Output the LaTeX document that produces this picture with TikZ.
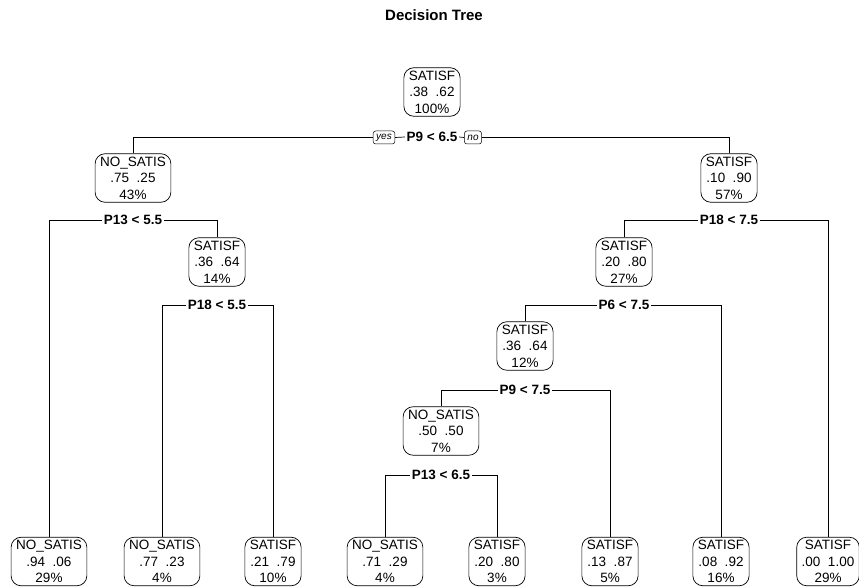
\documentclass[tikz,border=0pt]{standalone}
\usepackage{fontspec}
\setmainfont{Liberation Sans}
\begin{document}
\begin{tikzpicture}[x=1pt,y=-1pt,
  tn/.style={draw, line width=0.7pt, rounded corners=10pt, align=center, font=\fontsize{13.5}{16.5}\selectfont, inner xsep=5pt, inner ysep=3pt, fill=white},
  sp/.style={font=\bfseries\fontsize{13.5}{15}\selectfont, fill=white, inner xsep=1.5pt, inner ysep=1pt},
  yn/.style={draw, line width=0.5pt, rounded corners=2.5pt, font=\itshape\fontsize{10}{11}\selectfont, inner xsep=3pt, inner ysep=2pt, minimum height=13pt},
  ed/.style={draw, line width=0.7pt}]
\useasboundingbox (0,0) rectangle (859,588);
\node[font=\bfseries\fontsize{15}{17}\selectfont] (title) at (434,15) {Decision Tree};
% internal nodes
\node[tn] (root) at (432,92) {SATISF\\.38~~.62\\100\%};
\node[tn] (n2) at (133,178) {NO\_SATIS\\.75~~.25\\43\%};
\node[tn] (n3) at (729,178) {SATISF\\.10~~.90\\57\%};
\node[tn] (n5) at (217,262) {SATISF\\.36~~.64\\14\%};
\node[tn] (n6) at (624,262) {SATISF\\.20~~.80\\27\%};
\node[tn] (n13) at (525,346) {SATISF\\.36~~.64\\12\%};
\node[tn] (n26) at (441,431) {NO\_SATIS\\.50~~.50\\7\%};
% leaves
\node[tn] (l1) at (49,561.5) {NO\_SATIS\\.94~~.06\\29\%};
\node[tn] (l2) at (162,561.5) {NO\_SATIS\\.77~~.23\\4\%};
\node[tn] (l3) at (273,561.5) {SATISF\\.21~~.79\\10\%};
\node[tn] (l4) at (385,561.5) {NO\_SATIS\\.71~~.29\\4\%};
\node[tn] (l5) at (497,561.5) {SATISF\\.20~~.80\\3\%};
\node[tn] (l6) at (610,561.5) {SATISF\\.13~~.87\\5\%};
\node[tn] (l7) at (721,561.5) {SATISF\\.08~~.92\\16\%};
\node[tn] (l8) at (828,561.5) {SATISF\\.00~~1.00\\29\%};
% split labels
\node[sp] (s1) at (432,137) {P9 < 6.5};
\node[yn] (yes) at (384,137.5) {yes};
\node[yn] (no) at (473,137.5) {no};
\node[sp] (s2) at (133,220) {P13 < 5.5};
\node[sp] (s3) at (729,220) {P18 < 7.5};
\node[sp] (s5) at (217,305) {P18 < 5.5};
\node[sp] (s6) at (624,305) {P6 < 7.5};
\node[sp] (s13) at (525,390) {P9 < 7.5};
\node[sp] (s26) at (441,475) {P13 < 6.5};
% connectors
\draw[ed] (n2.north) |- (yes.west);
\draw[ed] (yes.east) -- (s1.west);
\draw[ed] (s1.east) -- (no.west);
\draw[ed] (no.east) -| (n3.north);
\draw[ed] (l1.north) |- (s2.west);
\draw[ed] (n5.north) |- (s2.east);
\draw[ed] (n6.north) |- (s3.west);
\draw[ed] (l8.north) |- (s3.east);
\draw[ed] (l2.north) |- (s5.west);
\draw[ed] (l3.north) |- (s5.east);
\draw[ed] (n13.north) |- (s6.west);
\draw[ed] (l7.north) |- (s6.east);
\draw[ed] (n26.north) |- (s13.west);
\draw[ed] (l6.north) |- (s13.east);
\draw[ed] (l4.north) |- (s26.west);
\draw[ed] (l5.north) |- (s26.east);
\end{tikzpicture}
\end{document}
